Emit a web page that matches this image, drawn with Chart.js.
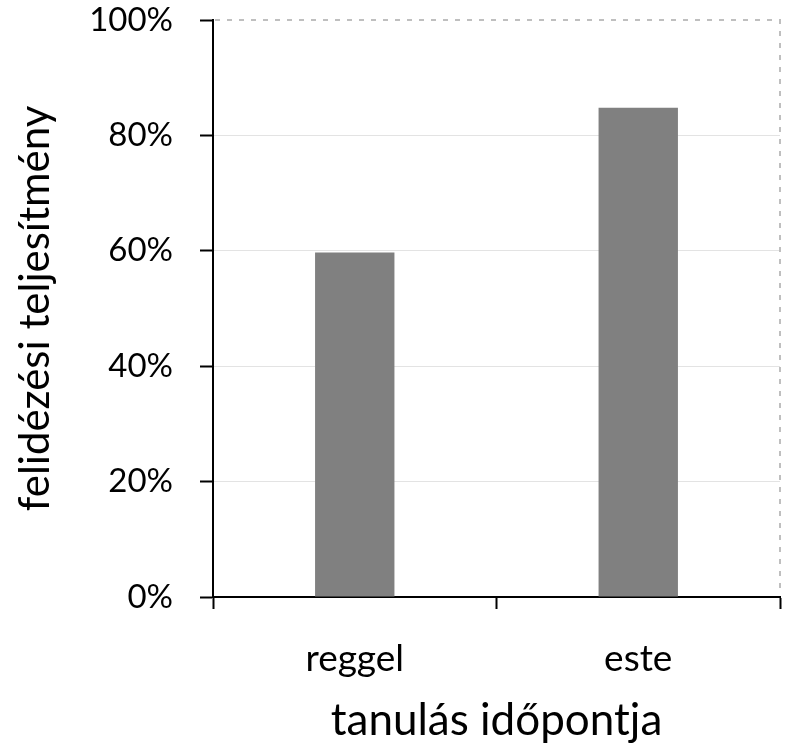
<!DOCTYPE html>
<html>
<head>
<meta charset="utf-8">
<script src="https://cdn.jsdelivr.net/npm/chart.js@4"></script>
<style>
  html, body { margin: 0; padding: 0; background: #fff; }
  #wrap { width: 786px; height: 751px; }
</style>
</head>
<body>
<div id="wrap"><canvas id="chart"></canvas></div>
<script>
// data
const categories = ["reggel", "este"];
const recall = [59.7, 84.8];
const yTicks = [0, 20, 40, 60, 80, 100];

const FONT = "Lato";

// dashed top and right frame, like the spreadsheet plot area
const frame = {
  id: "frame",
  afterDraw(chart) {
    const a = chart.chartArea;
    const ctx = chart.ctx;
    ctx.save();
    ctx.strokeStyle = "#bfbfbf";
    ctx.lineWidth = 2;
    ctx.setLineDash([5, 7]);
    ctx.beginPath();
    ctx.moveTo(a.left + 2, a.top);
    ctx.lineTo(a.right, a.top);
    ctx.lineTo(a.right, a.bottom - 2);
    ctx.stroke();
    ctx.restore();
  }
};

new Chart(document.getElementById("chart"), {
  type: "bar",
  data: {
    labels: categories,
    datasets: [{
      data: recall,
      backgroundColor: "#808080",
      borderWidth: 0,
      barPercentage: 0.28,
      categoryPercentage: 1
    }]
  },
  options: {
    responsive: true,
    maintainAspectRatio: false,
    animation: false,
    layout: { padding: 0 },
    plugins: { legend: { display: false }, tooltip: { enabled: false } },
    scales: {
      x: {
        afterFit(s) {
          s.height = 154;
          s.paddingLeft = 0;
          s.paddingRight = 6;
        },
        grid: {
          offset: true,
          drawOnChartArea: false,
          tickColor: "#000",
          tickLength: 12,
          tickWidth: 2
        },
        border: { color: "#000", width: 2 },
        ticks: { color: "#000", font: { family: FONT, size: 37 }, padding: 28 },
        title: {
          display: true,
          text: "tanulás időpontja",
          color: "#000",
          font: { family: FONT, size: 44 },
          padding: { top: 14 }
        }
      },
      y: {
        min: 0,
        max: 100,
        afterFit(s) {
          s.width = 213;
          s.paddingTop = 20;
          s.paddingBottom = 0;
        },
        afterBuildTicks(s) { s.ticks = yTicks.map(v => ({ value: v })); },
        grid: {
          color: ctx => (ctx.tick && ctx.tick.value === 100) ? "rgba(0,0,0,0)" : "#e3e3e3",
          lineWidth: 1,
          tickColor: "#000",
          tickLength: 13,
          tickWidth: 2
        },
        border: { color: "#000", width: 2 },
        ticks: {
          color: "#000",
          font: { family: FONT, size: 33 },
          padding: 27,
          callback: v => v + "%"
        },
        title: {
          display: true,
          text: "felidézési teljesítmény",
          color: "#000",
          font: { family: FONT, size: 42 },
          padding: { top: 10, bottom: 4 }
        }
      }
    }
  },
  plugins: [frame]
});
</script>
</body>
</html>
